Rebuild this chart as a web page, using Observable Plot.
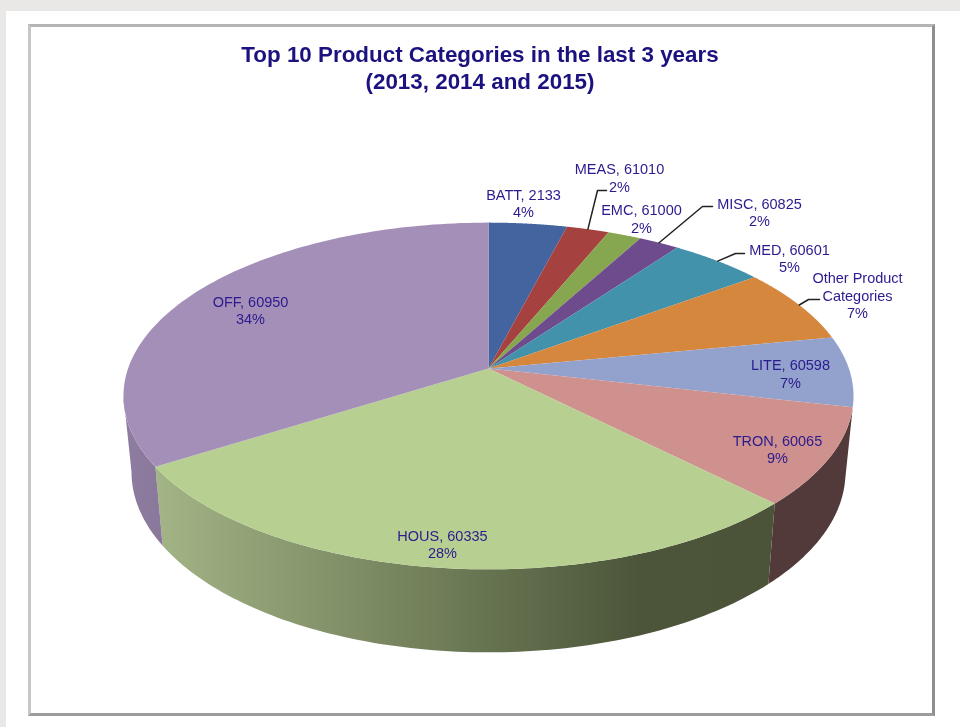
<!DOCTYPE html>
<html>
<head>
<meta charset="utf-8">
<script src="https://cdn.jsdelivr.net/npm/d3@7"></script>
<script src="https://cdn.jsdelivr.net/npm/@observablehq/plot@0.6"></script>
<style>
  html, body { margin: 0; padding: 0; background: #e9e8e6; width: 960px; height: 727px; overflow: hidden; }
  #card { position: absolute; left: 6px; top: 11px; width: 954px; height: 716px; background: #fff; }
  #frame { position: absolute; left: 28px; top: 24px; width: 901px; height: 686px; background: #fff;
           border-style: solid; border-width: 3px 3px 3px 3px; border-color: #b4b4b4 #8e8e8e #9c9c9c #c6c6c6; }
  #title { position: absolute; left: 0; top: 41px; width: 960px; margin: 0; text-align: center;
           font: bold 22.4px/27px "Liberation Sans", Arial, sans-serif; color: #1b1280; filter: blur(0.5px); }
  #chart { position: absolute; left: 0; top: 0; }
</style>
</head>
<body>
<div id="card"></div>
<div id="frame"></div>
<h1 id="title">Top 10 Product Categories in the last 3 years<br>(2013, 2014 and 2015)</h1>
<div id="chart"></div>
<script>
// Data
const categories = ["BATT", "MEAS", "EMC", "MISC", "MED", "Other Product\nCategories", "LITE", "TRON", "HOUS", "OFF"];
const codes      = [2133, 61010, 61000, 60825, 60601, null, 60598, 60065, 60335, 60950];
const percents   = [4, 2, 2, 2, 5, 7, 7, 9, 28, 34];
const shares     = [4.04, 2.2, 1.73, 2.09, 4.89, 7.02, 6.59, 8.99, 28.51, 33.94];
const topColors  = ["#4464a0", "#a5423f", "#86a74f", "#6e4b8c", "#4392ab", "#d5873e", "#92a2cc", "#ce918d", "#b7d092", "#a48fb8"];
const wallColors = { TRON: "#523a3a", HOUS: "url(#housWall)", OFF: "url(#offWall)" };

// Label layout, in the pie's own plane: centre of each text block relative to the apex
const labelAt = {
  BATT: [35, 165.5], MEAS: [131, 191], EMC: [153, 150], MISC: [271, 156.5], MED: [301, 110.5],
  "Other Product\nCategories": [369, 73.5], LITE: [302, -5], TRON: [289, -80.5], HOUS: [-46, -175.5], OFF: [-238, 58.5]
};
// Leader elbows for the labels that need them: bend point and end point
const leaderAt = {
  MEAS: [[109, 178], [118, 178]], MISC: [[214, 162], [224, 162]],
  MED: [[247, 115], [256, 115]], "Other Product\nCategories": [[320, 69], [331, 69]]
};

// Perspective of the disc
const R = 360.4, S = 169, K = 0.1585, DEPTH = 75, BASE_X = 0.978, BASE_Y = 1.04;
const rim = (theta) => {
  const w = 1 + K * Math.cos(theta);
  return [R * Math.sin(theta) / w, S * Math.cos(theta) / w];
};
const base = ([x, y]) => [x * BASE_X, y * BASE_Y - DEPTH];
// The wall is only seen between the disc's two side tangents
const tangentRight = Math.acos(-K);
const tangentLeft = 2 * Math.PI - tangentRight;

const total = d3.sum(shares);
const cumulative = d3.cumsum(shares);
const slices = categories.map((name, i) => ({
  name,
  code: codes[i],
  percent: percents[i],
  color: topColors[i],
  a0: ((i ? cumulative[i - 1] : 0) / total) * 2 * Math.PI,
  a1: (cumulative[i] / total) * 2 * Math.PI
}));
const arcAngles = (a0, a1) => d3.range(0, 97).map((k) => a0 + ((a1 - a0) * k) / 96);
const facePoints = (s) => [[0, 0], ...arcAngles(s.a0, s.a1).map(rim)];
const wallPoints = (s) => {
  const top = arcAngles(Math.max(s.a0, tangentRight), Math.min(s.a1, tangentLeft)).map(rim);
  return [...top, ...top.slice().reverse().map(base)];
};

const labelText = (s) => (s.code == null ? `${s.name}\n${s.percent}%` : `${s.name}, ${s.code}\n${s.percent}%`);
const labels = slices.map((s) => ({ text: labelText(s), x: labelAt[s.name][0], y: labelAt[s.name][1] }));
const leaders = slices
  .filter((s) => leaderAt[s.name])
  .map((s) => [rim((s.a0 + s.a1) / 2), ...leaderAt[s.name]]);

const gradients = () => {
  const svg = d3.create("svg:g");
  const defs = svg.append("defs");
  const grad = (id, stops) => {
    const g = defs.append("linearGradient").attr("id", id);
    stops.forEach(([o, c]) => g.append("stop").attr("offset", o).attr("stop-color", c));
  };
  grad("housWall", [[0, "#a3b486"], [0.55, "#65724f"], [0.78, "#4c553a"], [1, "#4b5439"]]);
  grad("offWall", [[0, "#8f7da1"], [1, "#8a789b"]]);
  return svg.node();
};

const chart = Plot.plot({
  width: 960,
  height: 727,
  margin: 0,
  x: { domain: [-488, 472], axis: null },
  y: { domain: [-359, 368], axis: null },
  style: { background: "transparent", filter: "blur(0.6px)" },
  marks: [
    gradients,
    ...slices.filter((s) => wallColors[s.name]).map((s) =>
      Plot.line(wallPoints(s), { x: "0", y: "1", fill: wallColors[s.name], stroke: "none", curve: "linear" })
    ),
    ...slices.map((s) =>
      Plot.line(facePoints(s), { x: "0", y: "1", fill: s.color, stroke: "none", curve: "linear" })
    ),
    ...leaders.map((pts) =>
      Plot.line(pts, { x: "0", y: "1", stroke: "#222", strokeWidth: 1.5, curve: "linear" })
    ),
    Plot.text(labels, {
      x: "x", y: "y", text: "text",
      fill: "#2c1a8e", fontSize: 14.5, lineHeight: 1.2, lineAnchor: "middle",
      fontFamily: "'Liberation Sans', Arial, sans-serif", textAnchor: "middle"
    })
  ]
});
document.getElementById("chart").appendChild(chart);
</script>
</body>
</html>
